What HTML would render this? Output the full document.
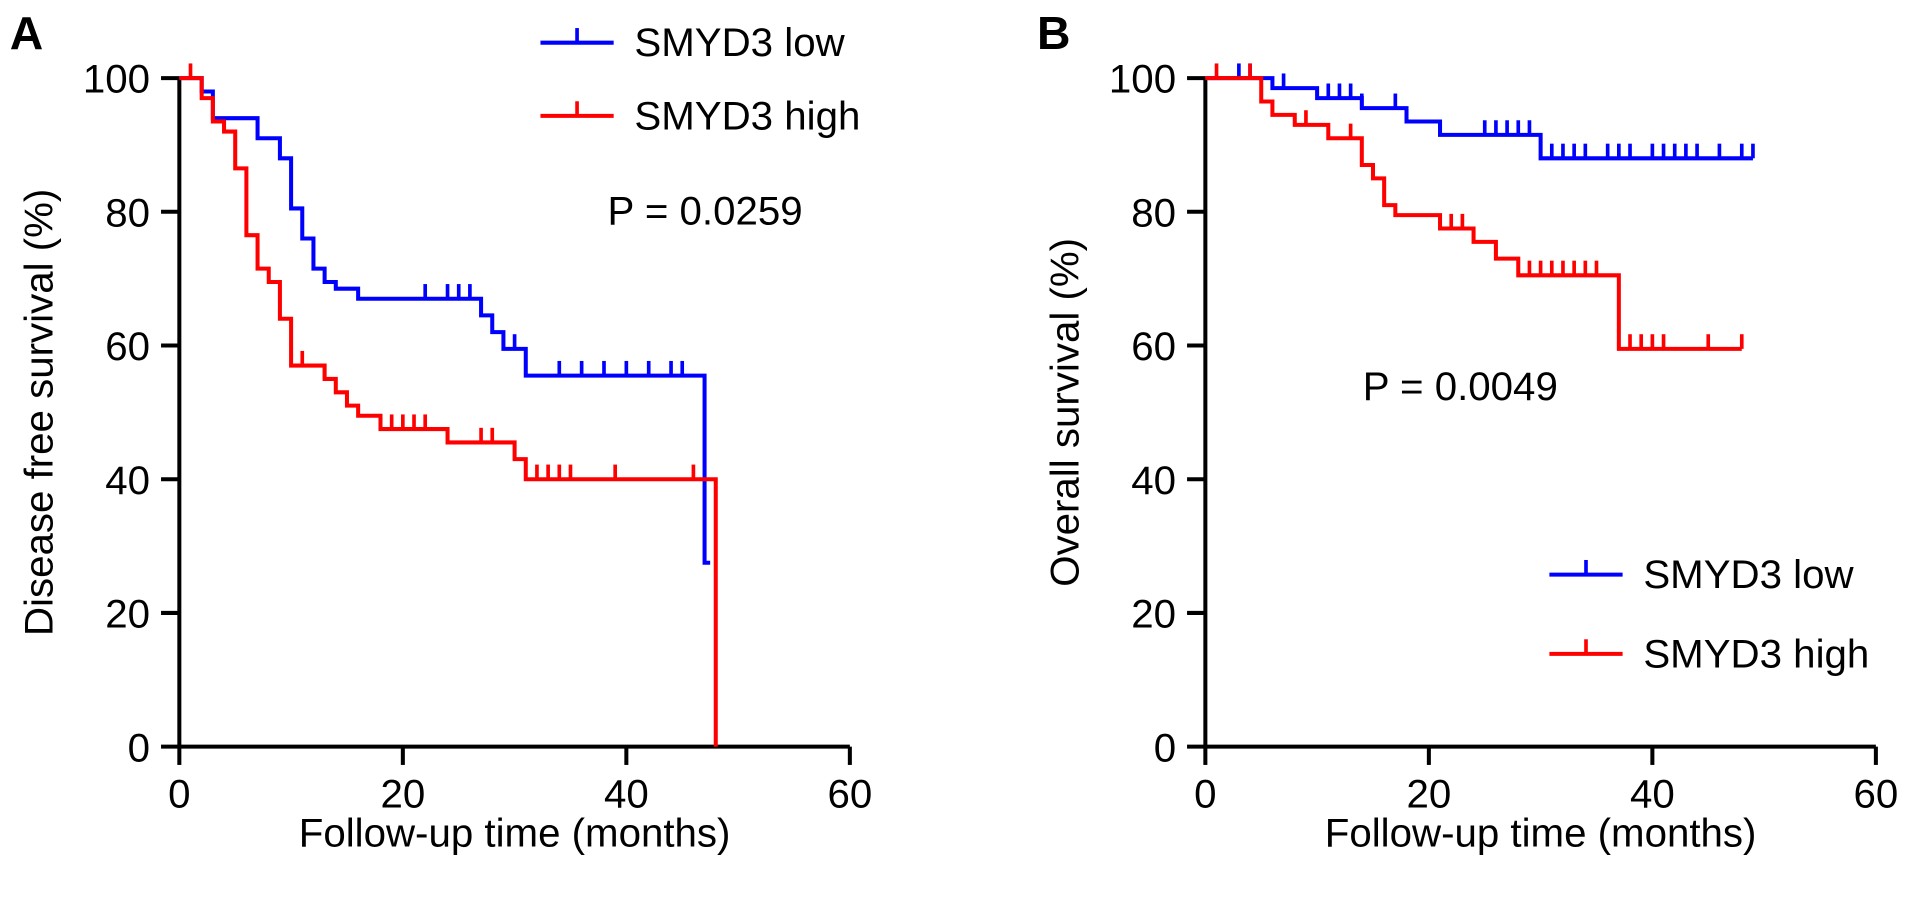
<!DOCTYPE html>
<html><head><meta charset="utf-8"><style>body{margin:0;background:#fff}svg{font-family:"Liberation Sans",Arial,sans-serif;display:block}</style></head>
<body>
<svg width="1913" height="902">
<g id="s" transform="scale(1.22)">
<text x="8" y="40" font-size="38" font-weight="bold">A</text>
<text x="850" y="40" font-size="38" font-weight="bold">B</text>
<text x="498" y="184" font-size="33">P = 0.0259</text>
<text x="1117" y="328" font-size="33">P = 0.0049</text>
</g>
</svg>
<script>
const ticksX=[0,20,40,60];
const ticksY=[0,20,40,60,80,100];
const aLowT=[0,2,3,7,9,10,11,12,13,14,16,27,28,29,31,47,47.5];
const aLowS=[100,98,94,91,88,80.5,76,71.5,69.5,68.5,67,64.5,62,59.5,55.5,27.5,27.5];
const aLowC=[22,24,25,26,30,34,36,38,40,42,44,45];
const aHighT=[0,2,3,4,5,6,7,8,9,10,13,14,15,16,18,24,30,31,48];
const aHighS=[100,97,93.5,92,86.5,76.5,71.5,69.5,64,57,55,53,51,49.5,47.5,45.5,43,40,0];
const aHighC=[1,11,13,19,20,21,22,27,28,32,33,34,35,39,46];
const bLowT=[0,6,10,14,18,21,30,49];
const bLowS=[100,98.5,97,95.5,93.5,91.5,88,88];
const bLowC=[3,4,7,11,12,13,14,17,21,25,26,27,28,29,31,32,33,34,36,37,38,40,41,42,43,44,46,48,49];
const bHighT=[0,5,6,8,11,14,15,16,17,21,24,26,28,37,48];
const bHighS=[100,96.5,94.5,93,91,87,85,81,79.5,77.5,75.5,73,70.5,59.5,59.5];
const bHighC=[1,4,9,13,22,23,29,30,31,32,33,34,35,38,39,40,41,45,48];
const NS="http://www.w3.org/2000/svg",svg=document.getElementById('s');
function mk(t,a){const e=document.createElementNS(NS,t);for(const k in a)e.setAttribute(k,a[k]);svg.appendChild(e);return e;}
function surv(T,S,t){let v=S[0];for(let i=0;i<T.length;i++)if(T[i]<=t)v=S[i];return v;}
function panel(x0,pid,ytitle,series){
  const X=m=>x0+m*9.16,Y=v=>612-v*5.48;
  let e=mk('line',{x1:x0,y1:Y(0),x2:x0,y2:Y(100),stroke:'#000','stroke-width':3.3});
  
  e=mk('line',{x1:x0,y1:Y(0),x2:X(60),y2:Y(0),stroke:'#000','stroke-width':3.3});
  
  ticksY.forEach(v=>{let l=mk('line',{x1:x0-15,y1:Y(v),x2:x0,y2:Y(v),stroke:'#000','stroke-width':3.3});
    
    let t=mk('text',{x:x0-24,y:Y(v)+12,'font-size':33,'text-anchor':'end'});t.textContent=v;
    });
  ticksX.forEach(v=>{let l=mk('line',{x1:X(v),y1:Y(0),x2:X(v),y2:Y(0)+15,stroke:'#000','stroke-width':3.3});
    
    let t=mk('text',{x:X(v),y:Y(0)+50,'font-size':33,'text-anchor':'middle'});t.textContent=v;
    });
  let t=mk('text',{x:X(30),y:694,'font-size':33,'text-anchor':'middle'});t.textContent='Follow-up time (months)';
  
  t=mk('text',{x:0,y:0,'font-size':33,'text-anchor':'middle',transform:`translate(${x0-104},${Y(50)}) rotate(-90)`});t.textContent=ytitle;
  
  series.forEach(s=>{
    let d=`M${X(s.T[0])},${Y(s.S[0])}`;
    for(let i=1;i<s.T.length;i++){d+=`H${X(s.T[i])}V${Y(s.S[i])}`;}
    let p=mk('path',{d:d,fill:'none',stroke:s.c,'stroke-width':3.3});
    
    s.C.forEach(c=>{const v=surv(s.T,s.S,c);let l=mk('line',{x1:X(c),y1:Y(v),x2:X(c),y2:Y(v)-12,stroke:s.c,'stroke-width':3});
      });
  });
}
function legend(x,y,c,label,pid){
  let l=mk('line',{x1:x,y1:y,x2:x+60,y2:y,stroke:c,'stroke-width':3.3});
  
  l=mk('line',{x1:x+30,y1:y,x2:x+30,y2:y-12,stroke:c,'stroke-width':3});
  
  let t=mk('text',{x:x+77,y:y+11,'font-size':33});t.textContent=label;
  
}
panel(147,'a','Disease free survival (%)',[{T:aLowT,S:aLowS,C:aLowC,c:'#0000ff',n:'low'},{T:aHighT,S:aHighS,C:aHighC,c:'#ff0000',n:'high'}]);
panel(988,'b','Overall survival (%)',[{T:bLowT,S:bLowS,C:bLowC,c:'#0000ff',n:'low'},{T:bHighT,S:bHighS,C:bHighC,c:'#ff0000',n:'high'}]);
legend(443,35,'#0000ff','SMYD3 low','a');
legend(443,95,'#ff0000','SMYD3 high','a');
legend(1270,471,'#0000ff','SMYD3 low','b');
legend(1270,536,'#ff0000','SMYD3 high','b');
</script>
</body></html>
